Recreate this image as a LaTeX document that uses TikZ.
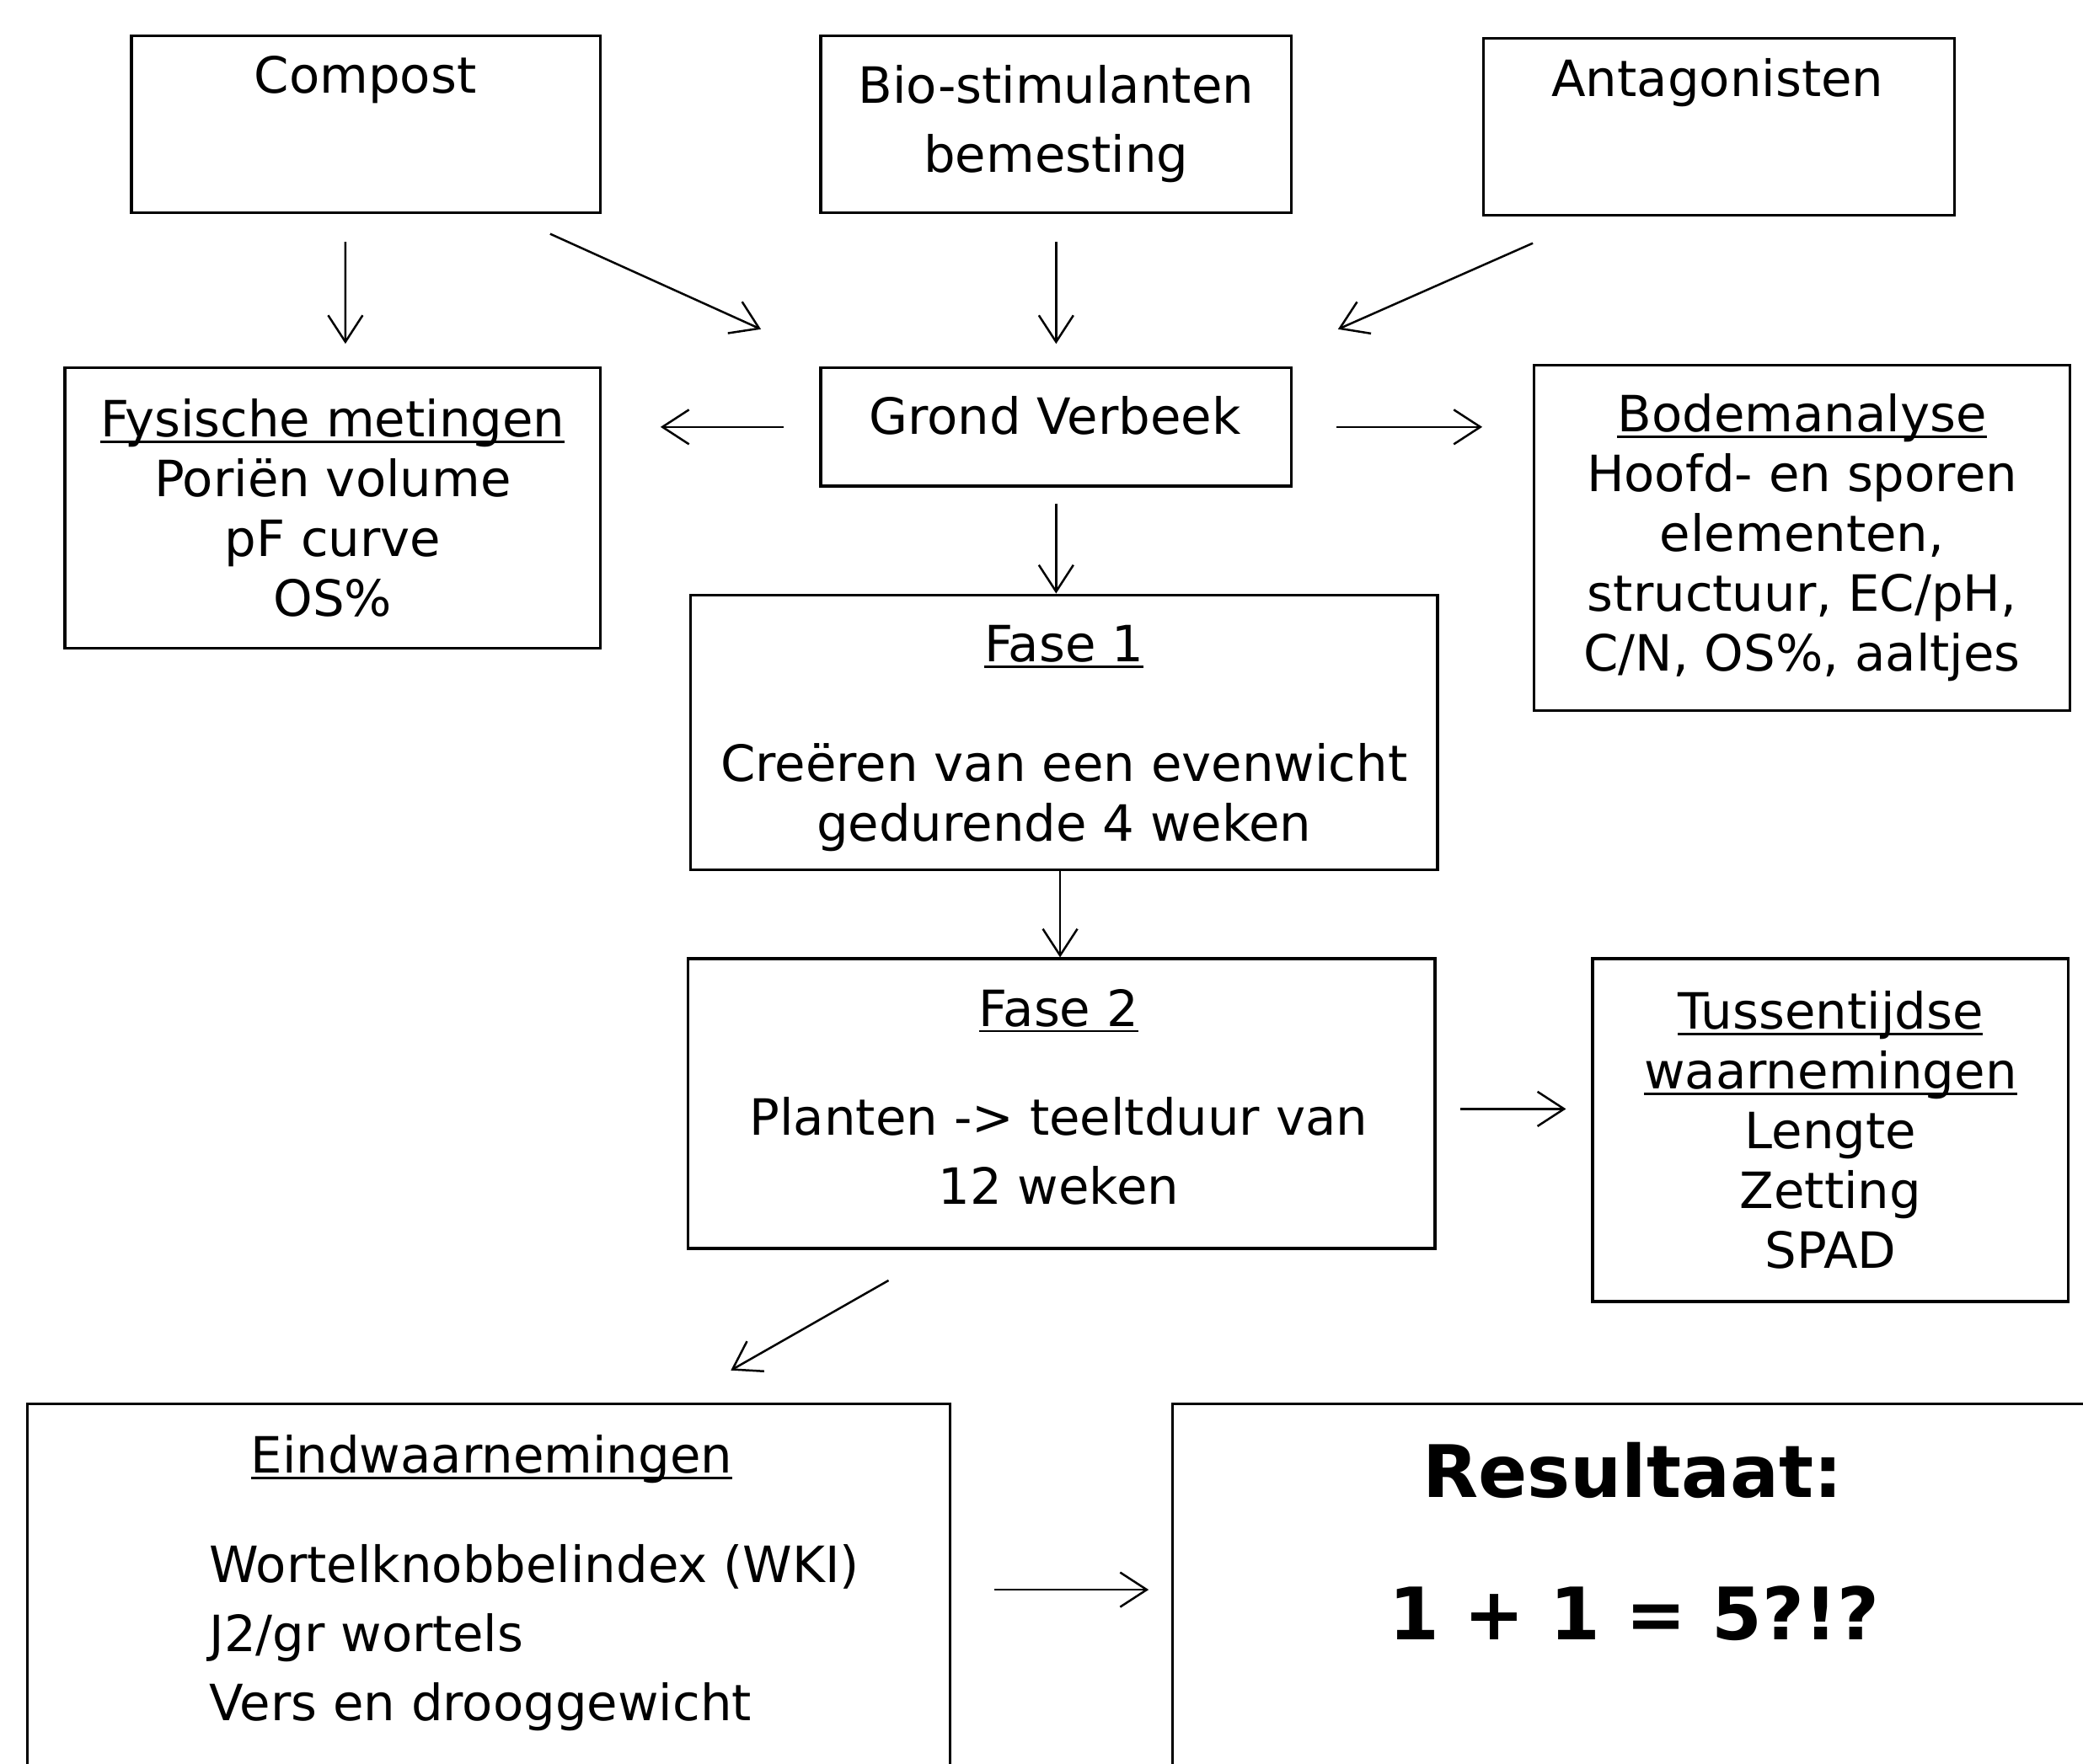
\documentclass[tikz,border=0pt]{standalone}
\usepackage{fontspec}
\setmainfont{DejaVu Sans}
\usepackage{tikz}
\usetikzlibrary{positioning,arrows.meta}

\newlength\undlwd
\newcommand\undl[1]{\settowidth\undlwd{#1}\rlap{\rule[-1.3pt]{\undlwd}{0.5pt}}#1}

\begin{document}
\begin{tikzpicture}[x=0.01cm,y=-0.01cm,>={Straight Barb[length=2mm,width=2.6mm]},
  box/.style={draw,line width=0.6pt,inner sep=0pt,align=center,font={\fontsize{10.7}{12.8}\selectfont}},
  txt/.style={inner sep=0pt,align=center,font={\fontsize{10.7}{12.8}\selectfont}},
  big/.style={inner sep=0pt,font={\fontsize{15.5}{18}\selectfont\bfseries}},
  arr/.style={->,line width=0.45pt}]
\clip (0,0) rectangle (1568,1328);
% inputs
\node[box,minimum width=3.53cm,minimum height=1.33cm] (compost) at (275.5,93.5) {};
\node[txt] (composttxt) at (275,60) {Compost};
\node[box,minimum width=3.54cm,minimum height=1.33cm] (bio) at (795,93.5) {Bio-stimulanten\\[2pt]bemesting};
\node[box,minimum width=3.54cm,minimum height=1.33cm] (antag) at (1294,95.5) {};
\node[txt] (antagtxt) at (1293,62) {Antagonisten};
% soil
\node[box,minimum width=3.54cm,minimum height=0.89cm] (grond) at (795,321.5) {};
\node[txt] (grondtxt) at (794,313) {Grond Verbeek};
\node[box,minimum width=4.03cm,minimum height=2.11cm] (fysische) at (250.5,382.5)
  {\undl{Fysische metingen}\\Poriën volume\\pF curve\\OS\%};
\node[box,minimum width=4.03cm,minimum height=2.60cm] (bodem) at (1356.5,405)
  {\undl{Bodemanalyse}\\Hoofd- en sporen\\elementen,\\structuur, EC/pH,\\C/N, OS\%, aaltjes};
% phases
\node[box,minimum width=5.62cm,minimum height=2.07cm] (fase1) at (801,551.5) {};
\node[txt] (fase1txt) at (801,556) {\undl{Fase 1}\\[12.8pt]Creëren van een evenwicht\\gedurende 4 weken};
\node[box,minimum width=5.62cm,minimum height=2.18cm] (fase2) at (799,831) {};
\node[txt] (fase2txt) at (797,826) {\undl{Fase 2}\\[10.5pt]Planten -> teeltduur van\\[2pt]12 weken};
\node[box,minimum width=3.58cm,minimum height=2.58cm] (tussen) at (1378,851)
  {\undl{Tussentijdse}\\\undl{waarnemingen}\\Lengte\\Zetting\\SPAD};
% end
\node[box,minimum width=6.94cm,minimum height=2.80cm] (eind) at (368,1197) {};
\node[txt,align=left,anchor=north west] (eindtxt) at (157,1080)
  {\hspace*{0.31cm}\undl{Eindwaarnemingen}\\[10.5pt]Wortelknobbelindex (WKI)\\[2pt]J2/gr wortels\\[2pt]Vers en drooggewicht};
\node[box,minimum width=9cm,minimum height=2.80cm] (result) at (1333,1197) {};
\node[big] (restitle) at (1229,1107) {Resultaat:};
\node[big] (reseq) at (1230,1215) {1 + 1 = 5?!?};

\draw[arr,shorten <=0.21cm,shorten >=0.17cm] ([xshift=-0.155cm]compost.south) -- ([xshift=0.095cm]fysische.north);
\draw[arr] ([xshift=-0.39cm,yshift=-0.15cm]compost.south east) -- ([xshift=-0.44cm,yshift=0.28cm]grond.north west);
\draw[arr,shorten <=0.21cm,shorten >=0.17cm] (bio.south) -- (grond.north);
\draw[arr] ([xshift=0.38cm,yshift=-0.20cm]antag.south west) -- ([xshift=0.34cm,yshift=0.28cm]grond.north east);
\draw[arr,shorten <=0.27cm,shorten >=0.44cm] (grond.west) -- (grond.west -| fysische.east);
\draw[arr,shorten <=0.33cm,shorten >=0.38cm] (grond.east) -- (grond.east -| bodem.west);
\draw[arr,shorten <=0.12cm] (grond.south) -- (grond.south |- fase1.north);
\draw[arr] ([xshift=-0.03cm]fase1.south) -- ([xshift=-0.03cm]fase1.south |- fase2.north);
\draw[arr,shorten <=0.18cm,shorten >=0.19cm] ([yshift=-0.04cm]fase2.east) -- ([yshift=-0.04cm]fase2.east -| tussen.west);
\draw[arr] ([xshift=1.52cm,yshift=-0.23cm]fase2.south west) -- ([xshift=1.82cm,yshift=0.24cm]eind.north);
\draw[arr,shorten <=0.32cm,shorten >=0.17cm] (eind.east) -- (result.west);
\end{tikzpicture}
\end{document}
